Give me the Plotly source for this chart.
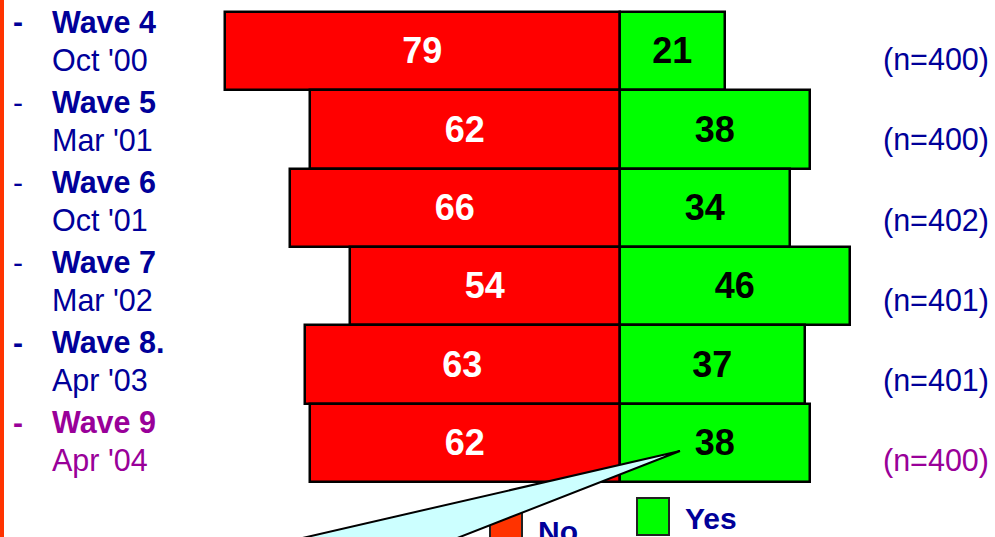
import plotly.graph_objects as go

# survey waves, top to bottom
waves = ["Wave 4", "Wave 5", "Wave 6", "Wave 7", "Wave 8.", "Wave 9"]
dates = ["Oct '00", "Mar '01", "Oct '01", "Mar '02", "Apr '03", "Apr '04"]
no_pct = [79, 62, 66, 54, 63, 62]
yes_pct = [21, 38, 34, 46, 37, 38]
n_base = [400, 400, 402, 401, 401, 400]

W, H = 995, 537
NAVY = "#000099"
PURPLE = "#990099"
RED = "#FF0000"
GREEN = "#00FF00"
FONT = "Liberation Sans, Arial, sans-serif"

rows = list(range(len(waves)))


def px(x):
    return x / W


def py(y):
    return 1 - y / H


def label(x, y, text, size, color):
    return dict(x=px(x), y=py(y), xref="paper", yref="paper", text=text,
                showarrow=False, xanchor="left", yanchor="middle",
                font=dict(size=size, color=color, family=FONT))


fig = go.Figure()
fig.add_bar(y=rows, x=[-v for v in no_pct], orientation="h",
            marker=dict(color=RED, line=dict(color="black", width=2.5)),
            text=[f"<b>{v}</b>" for v in no_pct], textposition="inside",
            insidetextanchor="middle", textangle=0,
            textfont=dict(color="white", size=36, family=FONT),
            hoverinfo="skip", showlegend=False)
fig.add_bar(y=rows, x=yes_pct, orientation="h",
            marker=dict(color=GREEN, line=dict(color="black", width=2.5)),
            text=[f"<b>{v}</b>" for v in yes_pct], textposition="inside",
            insidetextanchor="middle", textangle=0,
            textfont=dict(color="black", size=36, family=FONT),
            hoverinfo="skip", showlegend=False)

ann = []
for i, (w, d, n) in enumerate(zip(waves, dates, n_base)):
    col = PURPLE if i == len(waves) - 1 else NAVY
    top = 22 + 80 * i
    bot = 60 + 80 * i
    dash = "<b>-</b>" if i in (0, 4, 5) else "-"
    ann.append(label(11, top, dash, 30, col))
    ann.append(label(50, top, f"<b>{w}</b>", 30.5, col))
    ann.append(label(50, bot, d, 30.5, col))
    ann.append(label(881, bot, f"(n={n})", 30.5, col))

# legend drawn by hand (staggered like the slide)
ann.append(label(536, 531, "<b>No</b>", 30, NAVY))
ann.append(label(683, 518, "<b>Yes</b>", 30, NAVY))

shapes = [
    # orange rule on the left edge
    dict(type="line", xref="paper", yref="paper", x0=px(2), x1=px(2),
         y0=0, y1=1, line=dict(color="#FF3300", width=4)),
    dict(type="rect", xref="paper", yref="paper", x0=px(490), x1=px(522),
         y0=py(550), y1=py(513), fillcolor="#FF3300",
         line=dict(color="#222222", width=2)),
    dict(type="rect", xref="paper", yref="paper", x0=px(637), x1=px(669),
         y0=py(535), y1=py(498), fillcolor=GREEN,
         line=dict(color="#222222", width=2)),
    # callout wedge pointing at the latest "Yes" value
    dict(type="path", xref="paper", yref="paper", layer="above",
         path=(f"M {px(680)} {py(451)} L {px(207)} {py(560)} "
               f"L {px(401)} {py(560)} Z"),
         fillcolor="#CCFFFF", line=dict(color="black", width=2)),
]

x_scale = 5.0
fig.update_layout(
    width=W, height=H, barmode="relative", bargap=0,
    paper_bgcolor="white", plot_bgcolor="white",
    margin=dict(l=0, r=0, t=0, b=0),
    xaxis=dict(range=[-620 / x_scale, (W - 620) / x_scale], visible=False,
               fixedrange=True),
    yaxis=dict(range=[5.5 + 55 / 78.3, -0.5 - 12 / 78.3], visible=False,
               fixedrange=True),
    annotations=ann, shapes=shapes,
)

fig.write_html("out.html", config={"displayModeBar": False},
               post_script="document.body.style.margin='0';")
